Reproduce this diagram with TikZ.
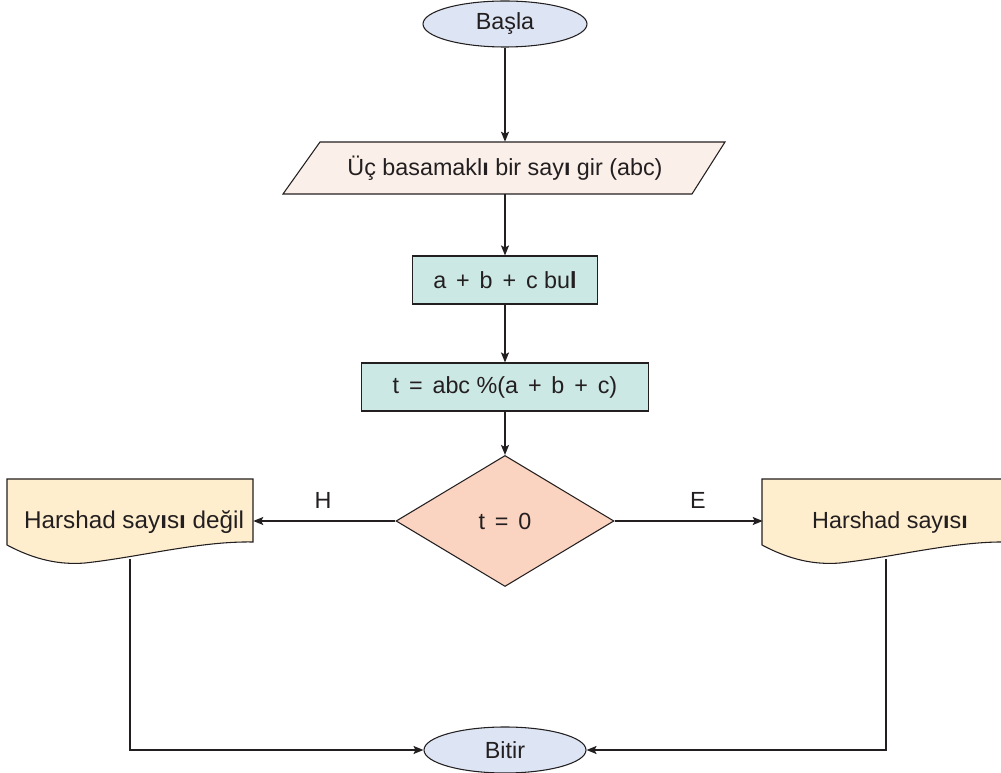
\documentclass[tikz,border=0pt]{standalone}
\usepackage{fontspec}
\setmainfont{Liberation Sans}
\usetikzlibrary{shapes.geometric,arrows.meta,calc}

\definecolor{ink}{HTML}{231F20}
\definecolor{termfill}{HTML}{DDE5F4}
\definecolor{iofill}{HTML}{FBF0E9}
\definecolor{procfill}{HTML}{CCE8E4}
\definecolor{decfill}{HTML}{FBD3C1}
\definecolor{docfill}{HTML}{FEEECE}

% operator set with wide room on both sides
\newcommand\opsym[1]{\hspace{7.4pt}#1\hspace{7.4pt}}

\begin{document}
\begin{tikzpicture}[x=0.75pt,y=-0.75pt,
  font=\fontsize{17.5}{21}\selectfont,
  every node/.style={text=ink, inner sep=0pt},
  terminal/.style={ellipse, draw=ink, line width=0.8pt, fill=termfill},
  procbox/.style={rectangle, draw=ink, line width=0.8pt, fill=procfill, minimum height=36pt},
  decision/.style={diamond, draw=ink, line width=0.8pt, fill=decfill, minimum width=163.5pt, minimum height=98.25pt},
  holder/.style={rectangle, draw=none},
  outline/.style={draw=ink, line width=0.8pt},
  flow/.style={draw=ink, line width=1.2pt, -{Stealth[length=7.5pt,width=6pt,inset=1.5pt]}}]
\useasboundingbox (0,0) rectangle (1001,773);
\clip (0,0) rectangle (1001,773);

% input parallelogram and the two output documents
\filldraw[outline, fill=iofill] (320,142) -- (725,142) -- (692,194) -- (283,194) -- cycle;
\filldraw[outline, fill=docfill] (7,479) -- (253,479) -- (253,542)
  .. controls (200,541) and (140,557) .. (85,563)
  .. controls (60,565) and (35,560) .. (7,545) -- cycle;
\begin{scope}[shift={(755,0)}]
\filldraw[outline, fill=docfill] (7,479) -- (253,479) -- (253,542)
  .. controls (200,541) and (140,557) .. (85,563)
  .. controls (60,565) and (35,560) .. (7,545) -- cycle;
\end{scope}

% nodes
\node[terminal, minimum width=123pt, minimum height=34.5pt] (start) at (505,24) {Başla};
\node[holder, minimum width=250pt, minimum height=39pt] (inp) at (505,168)
  {Üç basamakl{\bfseries ı} bir say{\bfseries ı} gir (abc)};
\node[procbox, minimum width=138.75pt] (sum) at (505,280)
  {a\opsym{+}b\opsym{+}c bu{\bfseries l}};
\node[procbox, minimum width=215.25pt] (mod) at (505,387)
  {t\opsym{=}abc \%(a\opsym{+}b\opsym{+}c)};
\node[decision] (dec) at (505,521) {t\opsym{=}0};
\node[holder, minimum width=184.5pt, minimum height=60pt] (nodoc) at (130,519) {};
\node[font=\fontsize{18.2}{21}\selectfont] (notxt) at (134,522) {Harshad say{\bfseries ı}s{\bfseries ı} değil};
\node[holder, minimum width=184.5pt, minimum height=60pt] (yesdoc) at (886,519) {};
\node (yestxt) at (890,522) {Harshad say{\bfseries ı}s{\bfseries ı}};
\node[terminal, minimum width=121.5pt, minimum height=34.5pt] (stop) at (505,750) {Bitir};
\node (hlab) at (323,500) {H};
\node (elab) at (698,500) {E};

% connectors
\draw[flow] (start) -- (inp);
\draw[flow] (inp) -- (sum);
\draw[flow] (sum) -- (mod);
\draw[flow] (mod) -- (dec);
\draw[flow] (dec.west) -- (dec.west -| nodoc.east);
\draw[flow] (dec.east) -- (dec.east -| yesdoc.west);
\draw[flow] (nodoc.south) |- (stop.west);
\draw[flow] (yesdoc.south) |- (stop.east);
\end{tikzpicture}
\end{document}
